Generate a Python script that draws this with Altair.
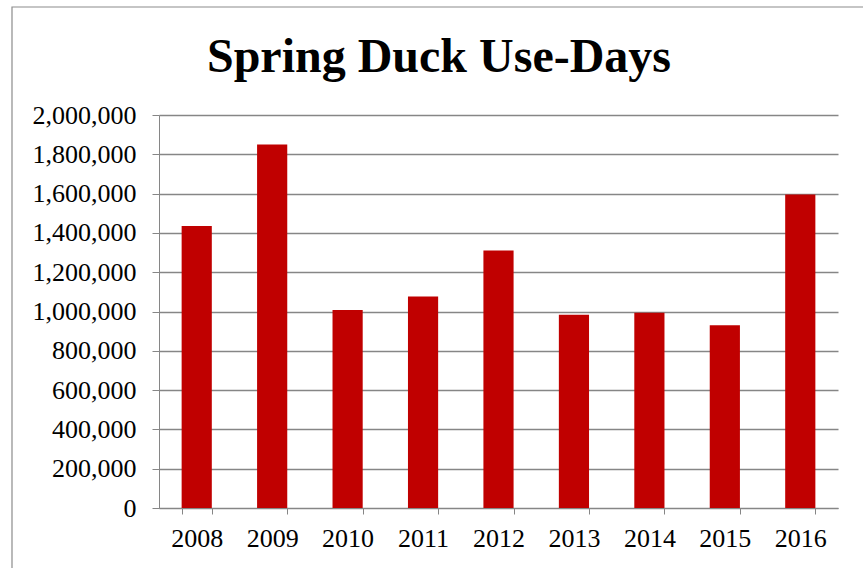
import altair as alt
import pandas as pd

# Spring duck use-days by survey year
years = ["2008", "2009", "2010", "2011", "2012", "2013", "2014", "2015", "2016"]
use_days = [1435000, 1850000, 1008000, 1076000, 1310000, 984000, 994000, 930000, 1596000]
y_ticks = [0, 200000, 400000, 600000, 800000, 1000000, 1200000, 1400000, 1600000, 1800000, 2000000]

df = pd.DataFrame({"year": years, "use_days": use_days})

FONT = "Liberation Serif"
GRAY = "#868686"

bars = alt.Chart(df).mark_bar(color="#C00000").encode(
    x=alt.X(
        "year:N",
        sort=years,
        title=None,
        scale=alt.Scale(paddingInner=0.6, paddingOuter=0.3),
        axis=alt.Axis(
            labelAngle=0,
            labelFont=FONT,
            labelFontSize=26,
            labelColor="black",
            labelPadding=11,
            tickBand="extent",
            tickSize=6,
            tickColor=GRAY,
            domainColor=GRAY,
            grid=False,
        ),
    ),
    y=alt.Y(
        "use_days:Q",
        title=None,
        scale=alt.Scale(domain=[0, 2000000], nice=False),
        axis=alt.Axis(
            values=y_ticks,
            format=",d",
            labelFont=FONT,
            labelFontSize=26,
            labelColor="black",
            labelPadding=16,
            tickSize=7,
            tickColor=GRAY,
            domainColor=GRAY,
            gridColor=GRAY,
            gridWidth=1.3,
        ),
    ),
)

# Outer border of the chart area
frame = alt.Chart(alt.Data(values=[{}])).mark_rect(
    fill=None, stroke="#8c8c8c", strokeWidth=1.2, clip=False
).encode(
    x=alt.value(-147),
    x2=alt.value(720),
    y=alt.value(-108),
    y2=alt.value(480),
)

chart = (
    alt.layer(bars, frame)
    .properties(
        width=679,
        height=393,
        title=alt.TitleParams(
            "Spring Duck Use-Days",
            font=FONT,
            fontSize=48,
            fontWeight="bold",
            color="black",
            anchor="middle",
            frame="group",
            dx=-59.5,
            baseline="alphabetic",
            offset=-114,
        ),
        autosize=alt.AutoSizeParams(type="none"),
        padding={"left": 159, "top": 115, "right": 25, "bottom": 60},
    )
    .configure_view(stroke=None)
)

chart.save("out.html", embed_options={"renderer": "svg", "actions": False})
